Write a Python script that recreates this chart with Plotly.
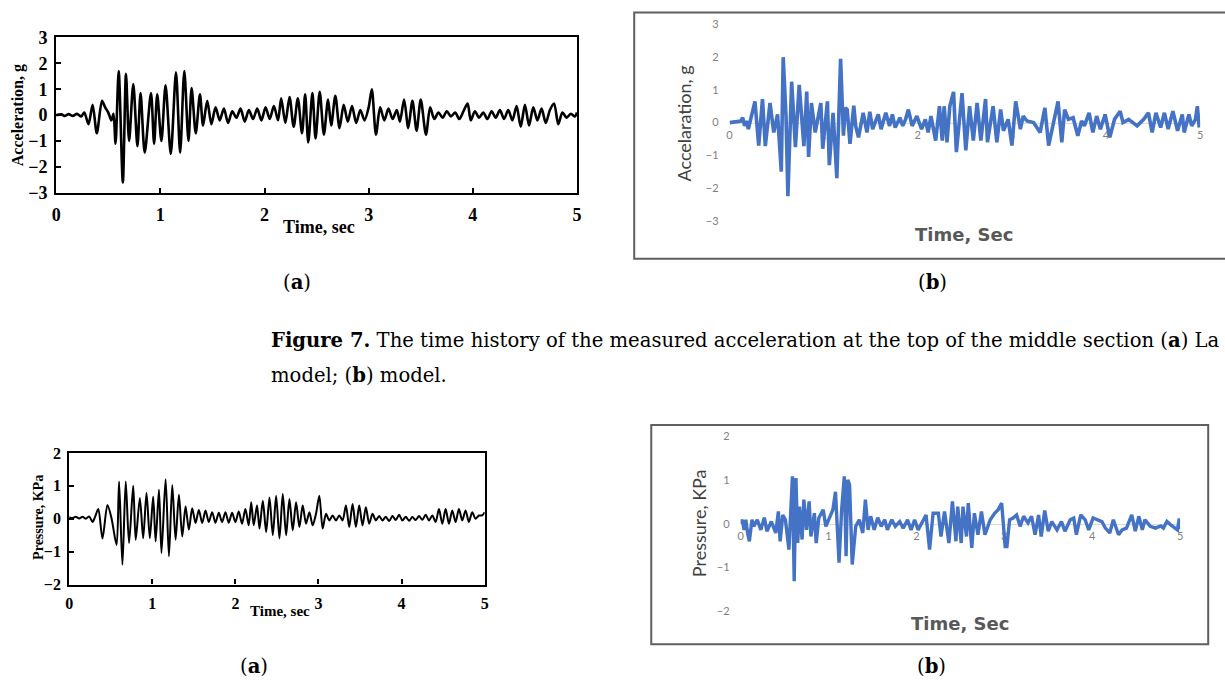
import plotly.graph_objects as go

# ---- Measured acceleration, laboratory record (g) ----
accel_lab_t = [0.00, 0.05, 0.08, 0.12, 0.16, 0.20, 0.24, 0.27, 0.31, 0.35, 0.39, 0.44, 0.47, 0.50,
               0.53, 0.55, 0.57, 0.60, 0.64, 0.67, 0.70, 0.74, 0.78, 0.81, 0.85, 0.91, 0.94, 0.97,
               1.01, 1.05, 1.10, 1.15, 1.19, 1.23, 1.27, 1.30, 1.34, 1.38, 1.41, 1.45, 1.49, 1.53,
               1.57, 1.61, 1.65, 1.69, 1.73, 1.77, 1.81, 1.85, 1.89, 1.93, 1.97, 2.01, 2.05, 2.09,
               2.13, 2.16, 2.20, 2.24, 2.28, 2.32, 2.36, 2.39, 2.42, 2.46, 2.49, 2.53, 2.57, 2.61,
               2.64, 2.68, 2.72, 2.76, 2.80, 2.84, 2.88, 2.92, 2.96, 3.00, 3.03, 3.07, 3.11, 3.15,
               3.19, 3.23, 3.27, 3.30, 3.34, 3.38, 3.42, 3.46, 3.50, 3.55, 3.59, 3.63, 3.67, 3.71,
               3.75, 3.79, 3.83, 3.87, 3.91, 3.95, 3.98, 4.02, 4.06, 4.10, 4.14, 4.18, 4.22, 4.26,
               4.30, 4.34, 4.38, 4.42, 4.46, 4.50, 4.54, 4.58, 4.62, 4.66, 4.70, 4.74, 4.78, 4.82,
               4.86, 4.90, 4.94, 4.98, 5.00]
accel_lab_g = [0.0, 0.03, -0.03, 0.04, -0.03, 0.05, -0.05, 0.1, -0.35, 0.4, -0.7, 0.55, 0.3, 0.1,
               -0.2, 0.05, -1.1, 1.7, -2.6, 1.6, -1.0, 1.2, -1.2, 0.85, -1.45, 0.85, -1.1, 0.8,
               -1.0, 1.15, -1.5, 1.65, -1.45, 1.7, -1.0, 1.05, -0.7, 0.8, -0.4, 0.55, -0.35, 0.3,
               -0.2, 0.25, -0.3, 0.15, -0.1, 0.25, -0.25, 0.2, -0.15, 0.25, -0.2, 0.3, -0.15, 0.35,
               -0.2, 0.65, -0.3, 0.7, -0.45, 0.65, -0.7, 0.8, -1.05, 0.85, -0.9, 0.9, -0.75, 0.6,
               -0.4, 0.75, -0.5, 0.4, -0.25, 0.35, -0.3, 0.2, -0.2, 0.3, 1.0, -0.75, 0.3, -0.2,
               0.25, -0.15, 0.2, -0.25, 0.6, -0.5, 0.55, -0.6, 0.6, -0.75, 0.3, -0.15, 0.1, -0.1,
               0.15, -0.05, 0.1, -0.15, 0.15, 0.45, -0.2, 0.15, -0.1, 0.1, -0.15, 0.15, -0.1, 0.2,
               -0.15, 0.2, -0.2, 0.35, -0.45, 0.4, -0.4, 0.3, -0.2, 0.25, -0.3, 0.2, 0.45, -0.35,
               0.1, -0.1, 0.05, -0.05, 0.1]

# ---- Acceleration, numerical model (g) ----
accel_model_t = [0.00, 0.12, 0.14, 0.16, 0.18, 0.20, 0.27, 0.31, 0.35, 0.38, 0.43, 0.47, 0.51, 0.55,
                 0.57, 0.60, 0.62, 0.66, 0.70, 0.74, 0.79, 0.82, 0.84, 0.87, 0.91, 0.97, 0.99, 1.04,
                 1.06, 1.10, 1.14, 1.18, 1.21, 1.23, 1.25, 1.28, 1.32, 1.34, 1.37, 1.42, 1.46, 1.49,
                 1.52, 1.58, 1.61, 1.66, 1.70, 1.73, 1.76, 1.81, 1.84, 1.87, 1.90, 1.94, 1.99, 2.04,
                 2.08, 2.11, 2.14, 2.19, 2.23, 2.26, 2.28, 2.31, 2.34, 2.38, 2.41, 2.47, 2.51, 2.55,
                 2.59, 2.63, 2.67, 2.72, 2.74, 2.80, 2.84, 2.88, 2.91, 2.96, 3.00, 3.04, 3.09, 3.12,
                 3.16, 3.23, 3.30, 3.35, 3.39, 3.44, 3.49, 3.53, 3.56, 3.60, 3.65, 3.70, 3.74, 3.77,
                 3.82, 3.86, 3.90, 3.94, 3.99, 4.04, 4.09, 4.15, 4.18, 4.24, 4.33, 4.40, 4.45, 4.49,
                 4.53, 4.58, 4.62, 4.66, 4.71, 4.76, 4.81, 4.83, 4.88, 4.91, 4.95, 4.97, 4.99]
accel_model_g = [0.0, 0.05, 0.15, -0.1, 0.05, -0.2, 0.65, -0.7, 0.72, -0.72, 0.6, -0.3, 0.25, -1.5,
                 2.0, 0.2, -2.25, 1.25, -0.75, 1.15, -0.72, 0.95, -1.05, 0.6, -0.3, 0.6, -0.8, 0.65,
                 -1.3, 0.3, -1.7, 1.95, -0.4, 0.45, 0.4, -0.65, 0.52, -0.1, -0.45, 0.3, -0.3, 0.33,
                 -0.2, 0.25, -0.2, 0.3, -0.1, 0.25, -0.15, 0.15, -0.1, 0.1, 0.4, -0.1, 0.2, -0.2,
                 0.1, -0.3, 0.2, -0.55, 0.5, -0.55, 0.5, -0.6, 0.5, 0.94, -0.9, 0.9, -0.85, 0.5,
                 -0.55, 0.6, -0.55, 0.72, -0.6, 0.5, -0.6, 0.4, -0.25, 0.1, -0.7, 0.65, -0.2, 0.2,
                 0.05, 0.0, -0.3, 0.45, -0.7, 0.0, 0.65, -0.6, 0.4, 0.1, 0.15, -0.4, 0.05, -0.1,
                 0.3, -0.3, 0.2, -0.2, 0.25, -0.45, 0.1, 0.35, 0.0, 0.1, -0.1, 0.1, 0.3, -0.3,
                 0.3, -0.15, 0.3, -0.2, 0.35, -0.25, 0.25, -0.3, 0.25, -0.1, 0.1, 0.5, -0.15]

# ---- Measured pressure, laboratory record (kPa) ----
press_lab_t = [0.00, 0.04, 0.08, 0.12, 0.16, 0.20, 0.24, 0.28, 0.31, 0.35, 0.40, 0.46, 0.51, 0.57,
               0.60, 0.64, 0.68, 0.72, 0.77, 0.80, 0.85, 0.89, 0.93, 0.97, 1.01, 1.04, 1.08, 1.11,
               1.16, 1.20, 1.24, 1.28, 1.32, 1.36, 1.40, 1.44, 1.48, 1.52, 1.56, 1.60, 1.64, 1.68,
               1.72, 1.76, 1.80, 1.84, 1.88, 1.92, 1.96, 2.00, 2.04, 2.08, 2.12, 2.16, 2.19, 2.22,
               2.26, 2.29, 2.33, 2.37, 2.41, 2.45, 2.49, 2.53, 2.57, 2.61, 2.65, 2.69, 2.73, 2.77,
               2.81, 2.85, 2.89, 2.93, 2.97, 3.01, 3.05, 3.09, 3.13, 3.17, 3.21, 3.25, 3.29, 3.33,
               3.37, 3.41, 3.45, 3.49, 3.53, 3.57, 3.61, 3.65, 3.69, 3.73, 3.77, 3.81, 3.85, 3.89,
               3.93, 3.97, 4.01, 4.05, 4.09, 4.13, 4.17, 4.21, 4.25, 4.29, 4.33, 4.37, 4.41, 4.45,
               4.49, 4.53, 4.57, 4.61, 4.65, 4.69, 4.73, 4.77, 4.81, 4.85, 4.89, 4.93, 4.97, 5.00]
press_lab_kpa = [0.05, 0.02, 0.06, 0.01, 0.06, 0.0, 0.07, -0.1, 0.05, 0.3, -0.6, 0.42, 0.0, -0.8,
                 1.13, -1.4, 1.13, -0.74, 1.0, -0.64, 0.63, -0.59, 0.78, -0.59, 0.68, -0.69, 0.88, -1.04,
                 1.2, -1.14, 1.03, -0.64, 0.73, -0.54, 0.37, -0.33, 0.32, -0.13, 0.27, -0.13, 0.25, -0.1,
                 0.2, -0.12, 0.18, -0.1, 0.2, -0.12, 0.18, -0.1, 0.22, -0.15, 0.3, -0.2, 0.5, -0.2,
                 0.4, -0.3, 0.55, -0.4, 0.65, -0.5, 0.7, -0.6, 0.75, -0.5, 0.6, -0.35, 0.5, -0.25,
                 0.4, -0.15, 0.2, -0.2, 0.15, 0.7, -0.3, 0.15, -0.05, 0.1, -0.05, 0.1, -0.05, 0.4,
                 -0.25, 0.45, -0.25, 0.4, -0.2, 0.35, -0.15, 0.15, -0.05, 0.08, -0.05, 0.06, -0.07, 0.08,
                 -0.04, 0.12, -0.05, 0.06, -0.06, 0.05, -0.04, 0.08, -0.03, 0.12, -0.05, 0.1, -0.1, 0.3,
                 -0.15, 0.3, -0.15, 0.25, -0.1, 0.3, -0.05, 0.25, -0.1, 0.2, 0.0, 0.1, 0.1, 0.2]

# ---- Pressure, numerical model (kPa) ----
press_model_t = [0.00, 0.02, 0.04, 0.06, 0.08, 0.10, 0.13, 0.15, 0.19, 0.23, 0.27, 0.30, 0.35, 0.40,
                 0.43, 0.45, 0.48, 0.51, 0.55, 0.59, 0.61, 0.63, 0.65, 0.67, 0.70, 0.72, 0.75, 0.78,
                 0.80, 0.84, 0.86, 0.89, 0.94, 0.97, 1.01, 1.05, 1.08, 1.12, 1.15, 1.18, 1.20, 1.22,
                 1.24, 1.27, 1.31, 1.35, 1.39, 1.42, 1.45, 1.48, 1.52, 1.56, 1.60, 1.64, 1.67, 1.72,
                 1.76, 1.81, 1.85, 1.90, 1.94, 1.98, 2.02, 2.07, 2.11, 2.15, 2.19, 2.25, 2.28, 2.32,
                 2.37, 2.41, 2.45, 2.47, 2.51, 2.53, 2.57, 2.59, 2.63, 2.66, 2.70, 2.74, 2.78, 2.84,
                 2.89, 2.93, 2.97, 3.01, 3.03, 3.06, 3.10, 3.14, 3.18, 3.22, 3.27, 3.31, 3.35, 3.39,
                 3.42, 3.46, 3.50, 3.54, 3.60, 3.65, 3.69, 3.75, 3.79, 3.82, 3.87, 3.92, 3.96, 4.01,
                 4.05, 4.11, 4.15, 4.20, 4.24, 4.30, 4.34, 4.39, 4.45, 4.49, 4.53, 4.57, 4.60, 4.66,
                 4.72, 4.78, 4.81, 4.85, 4.89, 4.94, 4.97, 4.99, 5.00]
press_model_kpa = [0.0, 0.09, -0.14, 0.09, -0.21, -0.40, 0.09, -0.06, 0.09, -0.14, 0.14, -0.17, 0.05, -0.21,
                   0.28, -0.40, 0.20, 0.09, -0.59, 1.08, -1.31, 1.04, -0.44, 0.39, -0.36, 0.55, -0.14, 0.51,
                   -0.29, 0.24, -0.44, 0.13, 0.32, -0.06, 0.13, 0.32, 0.73, -0.89, 0.32, 1.08, -0.74, 1.0,
                   0.89, -0.93, -0.06, 0.09, -0.21, 0.55, -0.14, 0.17, -0.14, 0.14, -0.06, 0.09, -0.14, 0.09,
                   -0.06, 0.05, -0.1, 0.09, -0.14, 0.09, -0.14, 0.05, 0.2, -0.59, 0.24, 0.24, -0.29, 0.28,
                   -0.44, 0.51, -0.40, 0.39, -0.44, 0.39, -0.29, 0.47, -0.55, 0.24, -0.25, 0.28, -0.25, 0.09,
                   0.24, 0.32, 0.47, -0.52, -0.52, 0.09, 0.13, 0.20, -0.06, 0.17, 0.02, 0.17, -0.25, 0.20,
                   -0.29, 0.30, -0.17, 0.05, -0.14, 0.05, -0.17, 0.09, 0.13, -0.25, 0.20, 0.09, -0.14, 0.13,
                   0.09, 0.05, -0.1, -0.21, 0.09, -0.25, -0.14, -0.1, 0.20, -0.17, 0.17, -0.14, 0.09, -0.06,
                   -0.1, -0.05, -0.1, 0.05, -0.02, -0.1, -0.14, 0.12, -0.12]

x_ticks = [0, 1, 2, 3, 4, 5]

W, H = 1225, 682

# Placement is written in window pixels; the figure sits inside the page body,
# which shifts and slightly rescales it, so convert window pixels to paper fractions.
OX, SX = 6.0, 0.99
OY, SY = 8.5, 0.974


def fx(p):
    return (p - OX) / SX / W


def fy(p):
    return 1 - (p - OY) / SY / H


SERIF = "Liberation Serif"
SANS = "Lato"
BLUE = "#4472C4"

fig = go.Figure()

# Laboratory traces: smooth black curves
fig.add_trace(go.Scatter(x=accel_lab_t, y=accel_lab_g, mode="lines", xaxis="x", yaxis="y",
                         line=dict(color="black", width=2.6, shape="spline", smoothing=0.8),
                         showlegend=False, hoverinfo="skip"))
fig.add_trace(go.Scatter(x=press_lab_t, y=press_lab_kpa, mode="lines", xaxis="x3", yaxis="y3",
                         line=dict(color="black", width=2.0, shape="spline", smoothing=0.8),
                         showlegend=False, hoverinfo="skip"))
# Model traces: straight blue segments
fig.add_trace(go.Scatter(x=accel_model_t, y=accel_model_g, mode="lines", xaxis="x2", yaxis="y2",
                         line=dict(color=BLUE, width=3.6), showlegend=False, hoverinfo="skip"))
fig.add_trace(go.Scatter(x=press_model_t, y=press_model_kpa, mode="lines", xaxis="x4", yaxis="y4",
                         line=dict(color=BLUE, width=3.4), showlegend=False, hoverinfo="skip"))


def lab_axis(domain, rng, size, anchor, standoff):
    return dict(domain=domain, range=rng, anchor=anchor, tickmode="array",
                tickvals=list(range(int(rng[0]), int(rng[1]) + 1)),
                showline=True, linecolor="black", linewidth=2.2, mirror=True,
                ticks="inside", ticklen=5, tickwidth=1.5, tickcolor="black",
                showgrid=False, zeroline=False, ticklabelstandoff=standoff,
                tickfont=dict(family=SERIF, size=size, color="black", weight="bold"))


def model_yaxis(domain, rng, anchor):
    return dict(domain=domain, range=rng, anchor=anchor, tickmode="array",
                tickvals=list(range(int(rng[0]), int(rng[1]) + 1)),
                showline=False, ticks="", showgrid=False, zeroline=False,
                ticklabelstandoff=10,
                tickfont=dict(family=SANS, size=11, color="#7f7f7f"))


def model_xaxis(domain, pos):
    return dict(domain=domain, range=[0, 5], anchor="free", position=pos,
                tickmode="array", tickvals=x_ticks,
                showline=True, linecolor="#d9d9d9", linewidth=1, ticks="",
                showgrid=False, zeroline=False, layer="below traces",
                ticklabelstandoff=2,
                tickfont=dict(family=SANS, size=11, color="#7f7f7f"))


fig.update_layout(
    width=W, height=H, autosize=False,
    margin=dict(l=0, r=0, t=0, b=0, pad=0),
    paper_bgcolor="white", plot_bgcolor="white",
    xaxis=lab_axis([fx(58), fx(577)], [0, 5], 18, "y", 4),
    yaxis=lab_axis([fy(192), fy(36)], [-3, 3], 18, "x", 3),
    xaxis3=lab_axis([fx(71), fx(485)], [0, 5], 16, "y3", 3),
    yaxis3=lab_axis([fy(585), fy(453)], [-2, 2], 16, "x3", 3),
    xaxis2=model_xaxis([fx(729), fx(1198)], fy(122)),
    yaxis2=model_yaxis([fy(220), fy(23)], [-3, 3], "x2"),
    xaxis4=model_xaxis([fx(740), fx(1178)], fy(524)),
    yaxis4=model_yaxis([fy(612), fy(436)], [-2, 2], "x4"),
)

# Frames around the model charts
frame = dict(color="#5f5f5f", width=2)
fig.add_shape(type="rect", xref="paper", yref="paper", x0=fx(634), x1=fx(1240),
              y0=fy(258), y1=fy(11), line=frame, fillcolor="rgba(0,0,0,0)")
fig.add_shape(type="rect", xref="paper", yref="paper", x0=fx(651), x1=fx(1206),
              y0=fy(645), y1=fy(425), line=frame, fillcolor="rgba(0,0,0,0)")


def label(text, x, y, font, angle=0, xanchor="center"):
    fig.add_annotation(text=text, x=fx(x), y=fy(y), xref="paper", yref="paper",
                       showarrow=False, textangle=angle, xanchor=xanchor, yanchor="middle",
                       font=font)


lab_title = dict(family=SERIF, size=16, color="black", weight="bold")
model_ytitle = dict(family=SANS, size=18, color="#404040")
model_xtitle = dict(family="DejaVu Sans", size=18, color="#595959", weight="bold")

label("Acceleration, g", 20, 114, lab_title, angle=-90)
label("Time, sec", 320, 226, dict(lab_title, size=18))
label("Pressure, KPa", 41, 518, dict(lab_title, size=14), angle=-90)
label("Time, sec", 281, 612, dict(lab_title, size=15))

label("Accelaration, g", 684, 122, model_ytitle, angle=-90)
label("Time, Sec", 963, 234, model_xtitle)
label("Pressure, KPa", 698, 523, model_ytitle, angle=-90)
label("Time, Sec", 959, 624, model_xtitle)

cap = dict(family="DejaVu Serif", size=19.6, color="black")
label("(<b>a</b>)", 298, 282, cap)
label("(<b>b</b>)", 931, 282, cap)
label("(<b>a</b>)", 255, 667, cap)
label("(<b>b</b>)", 930, 667, cap)
label("<b>Figure 7.</b> The time history of the measured acceleration at the top of the "
      "middle section (<b>a</b>) La", 270, 340, cap, xanchor="left")
label("model; (<b>b</b>) model.", 270, 375, cap, xanchor="left")

fig.write_html("out.html")
